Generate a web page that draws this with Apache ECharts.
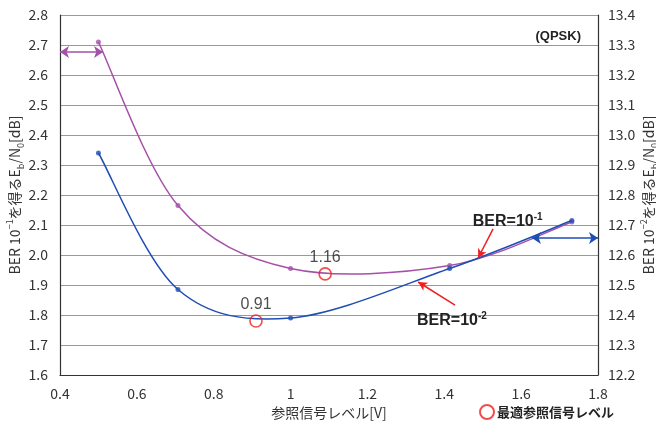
<!DOCTYPE html>
<html>
<head>
<meta charset="utf-8">
<script src="https://cdn.jsdelivr.net/npm/echarts@6/dist/echarts.min.js"></script>
<style>
html,body{margin:0;padding:0;background:#fff;}
#chart{width:656px;height:421px;}
</style>
</head>
<body>
<div id="chart"></div>
<script>
// Reference signal levels [V]
const refLevels = [0.5, 0.707, 1.0, 1.414, 1.732];
// Eb/N0 for BER 1e-1 (left axis)
const ber1Values = [2.71, 2.165, 1.955, 1.965, 2.11];
// Eb/N0 for BER 1e-2 (right axis)
const ber2Values = [12.94, 12.485, 12.39, 12.555, 12.715];
// Optimal reference levels (plotted on left axis scale)
const optimumX = [0.91, 1.09];
const optimumY = [1.78, 1.937];
const optimumLabels = ['0.91', '1.16'];
// Axis tick settings
const xTicks = {min: 0.4, max: 1.8, interval: 0.2};
const leftTicks = {min: 1.6, max: 2.8, interval: 0.1};
const rightTicks = {min: 12.2, max: 13.4, interval: 0.1};
// Annotation arrows (data coords)
const purpleArrow = [[0.4, 2.677], [0.512, 2.677]];
const blueArrow = [[1.628, 12.657], [1.8, 12.657]];
const redArrow1 = [[1.527, 2.087], [1.488, 1.99]];
const redArrow2 = [[1.428, 1.833], [1.332, 1.91]];
const ber1LabelPos = [1.565, 2.11];
const ber2LabelPos = [1.42, 1.78];

const FONT = '"Noto Sans CJK JP", "Noto Sans", sans-serif';
const purple = '#A550A8';
const blue = '#1E4EB4';
const red = '#F02020';

const nameRich = {
  n: {fontSize: 14, fontFamily: FONT, color: '#333', lineHeight: 20, verticalAlign: 'middle'},
  sup: {fontSize: 9, fontFamily: FONT, color: '#333', lineHeight: 20, verticalAlign: 'top'},
  sub: {fontSize: 9, fontFamily: FONT, color: '#333', lineHeight: 20, verticalAlign: 'bottom'}
};
const berRich = {
  b: {fontSize: 16, fontWeight: 'bold', fontFamily: 'Liberation Sans, sans-serif', color: '#222', lineHeight: 20, verticalAlign: 'middle'},
  s: {fontSize: 10, fontWeight: 'bold', fontFamily: 'Liberation Sans, sans-serif', color: '#222', lineHeight: 20, verticalAlign: 'top'}
};

// Smooth curve (Catmull-Rom as cubic Bezier, like spreadsheet smoothed lines),
// drawn segment by segment through the axis scales via api.coord
function smoothSegment(xs, ys, color) {
  return function (params, api) {
    const i = params.dataIndex;
    const n = xs.length;
    if (i >= n - 1) return null;
    const P = k => api.coord([xs[Math.max(0, Math.min(n - 1, k))], ys[Math.max(0, Math.min(n - 1, k))]]);
    const p0 = P(i - 1), p1 = P(i), p2 = P(i + 1), p3 = P(i + 2);
    return {
      type: 'bezierCurve',
      shape: {
        x1: p1[0], y1: p1[1], x2: p2[0], y2: p2[1],
        cpx1: p1[0] + (p2[0] - p0[0]) / 6, cpy1: p1[1] + (p2[1] - p0[1]) / 6,
        cpx2: p2[0] - (p3[0] - p1[0]) / 6, cpy2: p2[1] - (p3[1] - p1[1]) / 6
      },
      style: {stroke: color, lineWidth: 1.5, fill: null}
    };
  };
}

const chart = echarts.init(document.getElementById('chart'));
chart.setOption({
  animation: false,
  backgroundColor: '#fff',
  title: {
    text: '(QPSK)', right: 70, top: 25,
    textStyle: {fontSize: 13, fontWeight: 'bold', fontFamily: 'Liberation Sans, sans-serif', color: '#222'}
  },
  legend: {
    left: 474, top: 399,
    itemWidth: 14, itemHeight: 14, itemGap: 4,
    textStyle: {fontSize: 13, fontWeight: 'bold', fontFamily: FONT, color: '#222', padding: [0,0,0,-2]},
    data: [{name: '最適参照信号レベル', icon: 'circle', itemStyle: {color: '#fff', borderColor: red, borderWidth: 2}}]
  },
  grid: {left: 60, right: 58, top: 15, bottom: 46, containLabel: false, outerBoundsMode: 'none'},
  xAxis: {
    type: 'value', min: xTicks.min, max: xTicks.max, interval: xTicks.interval,
    name: '参照信号レベル[V]', nameLocation: 'middle', nameGap: 29,
    nameTextStyle: {fontSize: 14, fontFamily: FONT, color: '#333'},
    axisLine: {show: true, lineStyle: {color: '#333', width: 1.2}},
    axisTick: {show: false},
    splitLine: {show: false},
    axisLabel: {fontSize: 14, fontFamily: FONT, color: '#333', margin: 12}
  },
  yAxis: [
    {
      type: 'value', min: leftTicks.min, max: leftTicks.max, interval: leftTicks.interval,
      name: '{n|BER 10}{sup|−1}{n|を得るE}{sub|b}{n|/N}{sub|0}{n|[dB]}',
      nameLocation: 'middle', nameGap: 35, nameRotate: 90, nameMoveOverlap: false,
      nameTextStyle: {rich: nameRich},
      axisLine: {show: true, lineStyle: {color: '#333', width: 1.2}},
      axisTick: {show: false},
      splitLine: {show: true, lineStyle: {color: '#999', width: 1.2}},
      axisLabel: {fontSize: 14, fontFamily: FONT, color: '#333', margin: 12, formatter: v => v.toFixed(1)}
    },
    {
      type: 'value', min: rightTicks.min, max: rightTicks.max, interval: rightTicks.interval,
      name: '{n|BER 10}{sup|−2}{n|を得るE}{sub|b}{n|/N}{sub|0}{n|[dB]}',
      nameLocation: 'middle', nameGap: 41, nameRotate: 90, nameMoveOverlap: false,
      nameTextStyle: {rich: nameRich},
      axisLine: {show: true, lineStyle: {color: '#333', width: 1.2}},
      axisTick: {show: false},
      splitLine: {show: false},
      axisLabel: {fontSize: 14, fontFamily: FONT, color: '#333', margin: 10, formatter: v => v.toFixed(1)}
    }
  ],
  series: [
    {
      name: 'BER=10-1 curve', type: 'custom', yAxisIndex: 0, z: 2, silent: true,
      data: refLevels.map((x, i) => [x, ber1Values[i]]),
      renderItem: smoothSegment(refLevels, ber1Values, purple),
      markLine: {
        silent: true, symbol: ['arrow', 'arrow'], symbolSize: [9, 9],
        lineStyle: {color: purple, width: 1.5, type: 'solid'}, label: {show: false},
        data: [[{coord: purpleArrow[0]}, {coord: purpleArrow[1]}]]
      }
    },
    {
      name: 'BER=10-1', type: 'scatter', yAxisIndex: 0, z: 3,
      data: refLevels.map((x, i) => [x, ber1Values[i]]),
      symbol: 'circle', symbolSize: 5, itemStyle: {color: purple}
    },
    {
      name: 'BER=10-2 curve', type: 'custom', yAxisIndex: 1, z: 4, silent: true,
      data: refLevels.map((x, i) => [x, ber2Values[i]]),
      renderItem: smoothSegment(refLevels, ber2Values, blue),
      markLine: {
        silent: true, symbol: ['arrow', 'arrow'], symbolSize: [9, 9],
        lineStyle: {color: blue, width: 1.5, type: 'solid'}, label: {show: false},
        data: [[{coord: blueArrow[0]}, {coord: blueArrow[1]}]]
      }
    },
    {
      name: 'BER=10-2', type: 'scatter', yAxisIndex: 1, z: 5,
      data: refLevels.map((x, i) => [x, ber2Values[i]]),
      symbol: 'circle', symbolSize: 5, itemStyle: {color: blue}
    },
    {
      name: '最適参照信号レベル', type: 'scatter', yAxisIndex: 0,
      data: optimumX.map((x, i) => [x, optimumY[i]]),
      symbol: 'circle', symbolSize: 12,
      itemStyle: {color: 'rgba(255,255,255,0)', borderColor: red, borderWidth: 1.6},
      z: 6,
      label: {
        show: true, position: 'top', distance: 2,
        fontSize: 16, fontFamily: 'Liberation Sans, sans-serif', color: '#222',
        formatter: p => optimumLabels[p.dataIndex]
      },
      markLine: {
        silent: true, symbol: ['none', 'arrow'], symbolSize: [7, 9],
        lineStyle: {color: red, width: 1.5, type: 'solid'}, label: {show: false},
        data: [
          [{coord: redArrow1[0]}, {coord: redArrow1[1]}],
          [{coord: redArrow2[0]}, {coord: redArrow2[1]}]
        ]
      },
      markPoint: {
        silent: true, symbol: 'circle', symbolSize: 0,
        data: [
          {coord: ber1LabelPos, label: {show: true, formatter: '{b|BER=10}{s|-1}', rich: berRich}},
          {coord: ber2LabelPos, label: {show: true, formatter: '{b|BER=10}{s|-2}', rich: berRich}}
        ]
      }
    }
  ]
});
</script>
</body>
</html>
